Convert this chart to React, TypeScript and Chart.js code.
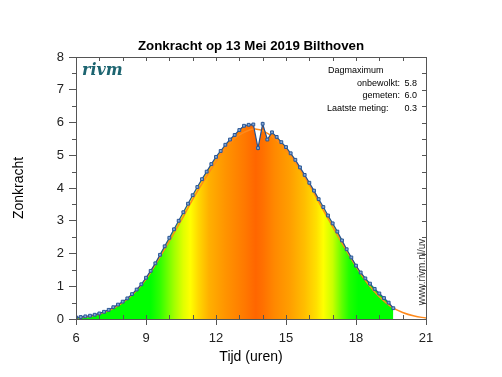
import React, { useEffect, useRef } from 'react';
import { Chart, registerables } from 'chart.js';

Chart.register(...registerables);

// ---- data ----
const START_HOUR = 6;
const STEP_HOURS = 0.2; // one measurement every 12 minutes
const measured = [
  0.05, 0.06, 0.08, 0.10, 0.13, 0.17, 0.22, 0.28, 0.36, 0.44,
  0.53, 0.63, 0.76, 0.90, 1.06, 1.26, 1.47, 1.70, 1.96, 2.22,
  2.48, 2.74, 3.00, 3.26, 3.52, 3.78, 4.03, 4.27, 4.50, 4.73,
  4.95, 5.13, 5.32, 5.48, 5.62, 5.77, 5.90, 5.93, 5.94, 5.22,
  5.96, 5.48, 5.70, 5.56, 5.40, 5.25, 5.06, 4.86, 4.63, 4.40,
  4.16, 3.92, 3.66, 3.42, 3.16, 2.92, 2.67, 2.40, 2.13, 1.88,
  1.63, 1.42, 1.24, 1.08, 0.92, 0.78, 0.64, 0.50, 0.33,
];
const measuredTimes = measured.map((_, i) => +(START_HOUR + i * STEP_HOURS).toFixed(2));

const clearTimes = [6, 6.5, 7, 7.5, 8, 8.5, 9, 9.5, 10, 10.5, 11, 11.5, 12, 12.5, 13, 13.5, 13.7, 14, 14.5, 15, 15.5, 16, 16.5, 17, 17.5, 18, 18.5, 19, 19.5, 20, 20.5, 21];
const clearValues = [0.03, 0.07, 0.15, 0.29, 0.50, 0.80, 1.22, 1.78, 2.38, 3.00, 3.65, 4.25, 4.80, 5.30, 5.62, 5.79, 5.80, 5.75, 5.52, 5.15, 4.68, 4.10, 3.45, 2.82, 2.20, 1.60, 1.08, 0.68, 0.38, 0.20, 0.09, 0.03];

const xTickValues = [6, 9, 12, 15, 18, 21];
const yTickValues = [0, 1, 2, 3, 4, 5, 6, 7, 8];

const titleText = 'Zonkracht op 13 Mei 2019 Bilthoven';
const xTitle = 'Tijd (uren)';
const yTitle = 'Zonkracht';
const infoHeader = 'Dagmaximum';
const infoLabels = ['onbewolkt:', 'gemeten:', 'Laatste meting:'];
const infoValues = ['5.8', '6.0', '0.3'];
const logoText = 'rivm';
const urlText = 'www.rivm.nl/uv';

// colour of the area fill, by hour (style)
const fillStops: [number, string][] = [
  [6, '#00ff00'], [9.2, '#00ff00'], [9.6, '#30ff00'], [10.2, '#a0ff00'], [10.6, '#e0ff00'],
  [10.9, '#ffff00'], [11.25, '#ffd800'], [11.7, '#ffb000'], [12.4, '#ff9400'], [13.25, '#ff7800'],
  [13.7, '#ff6600'], [14.0, '#ff7000'], [14.5, '#ff8800'], [15.2, '#ffa000'], [15.8, '#ffbe00'],
  [16.3, '#ffe000'], [16.6, '#ffff00'], [17.0, '#c8ff00'], [17.4, '#60ff00'], [17.7, '#20ff00'],
  [18.1, '#00ff00'], [21, '#00ff00'],
];

const FONT = "'Liberation Sans', Arial, Helvetica, sans-serif";
const AXIS_COLOR = '#555555';

export default function App() {
  const ref = useRef<HTMLCanvasElement>(null);

  useEffect(() => {
    document.body.style.margin = '0';
    const canvas = ref.current;
    if (!canvas) return;

    const fillColor = (ctx: any) => {
      const chart = ctx.chart;
      const area = chart.chartArea;
      if (!area) return 'rgba(0,0,0,0)';
      const xs = chart.scales.x;
      const g = chart.ctx.createLinearGradient(area.left, 0, area.right, 0);
      fillStops.forEach(([h, c]) => {
        const p = (xs.getPixelForValue(h) - area.left) / (area.right - area.left);
        g.addColorStop(Math.min(1, Math.max(0, p)), c);
      });
      return g;
    };

    const decor = {
      id: 'decor',
      afterDraw(chart: any) {
        const c = chart.ctx;
        const a = chart.chartArea;
        const xs = chart.scales.x;
        const ys = chart.scales.y;
        c.save();
        // frame top / right
        c.strokeStyle = AXIS_COLOR;
        c.lineWidth = 1;
        c.beginPath();
        c.moveTo(a.left, a.top + 0.5);
        c.lineTo(a.right + 0.5, a.top + 0.5);
        c.lineTo(a.right + 0.5, a.bottom);
        c.stroke();
        // minor ticks
        c.beginPath();
        for (let h = 6; h <= 21; h++) {
          const px = Math.round(xs.getPixelForValue(h)) + 0.5;
          c.moveTo(px, a.bottom);
          c.lineTo(px, a.bottom - 4);
          c.moveTo(px, a.top);
          c.lineTo(px, a.top + 4);
        }
        for (let v = 0; v <= 8; v += 0.5) {
          const py = Math.round(ys.getPixelForValue(v)) + 0.5;
          if (v % 1 !== 0) {
            c.moveTo(a.left, py);
            c.lineTo(a.left - 4, py);
          }
          c.moveTo(a.right, py);
          c.lineTo(a.right - 4, py);
        }
        c.stroke();

        c.fillStyle = '#000';
        // title
        c.font = `bold 13.3px ${FONT}`;
        c.textAlign = 'center';
        c.textBaseline = 'alphabetic';
        c.fillText(titleText, (a.left + a.right) / 2, 50);
        // axis titles
        c.font = `14px ${FONT}`;
        c.fillText(xTitle, (a.left + a.right) / 2, 361);
        c.save();
        c.translate(23, (a.top + a.bottom) / 2);
        c.rotate(-Math.PI / 2);
        c.fillText(yTitle, 0, 0);
        c.restore();
        // info block
        c.font = `9px ${FONT}`;
        c.textAlign = 'left';
        c.fillText(infoHeader, 328, 73);
        const rows = [85.5, 98, 110.7];
        infoLabels.forEach((lab, i) => {
          if (i < 2) {
            c.textAlign = 'right';
            c.fillText(lab, 400, rows[i]);
          } else {
            c.textAlign = 'left';
            c.fillText(lab, 327, rows[i]);
          }
          c.textAlign = 'right';
          c.fillText(infoValues[i], 417, rows[i]);
        });
        // logo
        c.font = `italic bold 16px 'DejaVu Serif', serif`;
        c.fillStyle = '#1c6470';
        c.textAlign = 'left';
        c.fillText(logoText, 82, 75);
        // url
        c.font = `10px ${FONT}`;
        c.fillStyle = '#333';
        c.save();
        c.translate(425, 272);
        c.rotate(-Math.PI / 2);
        c.textAlign = 'center';
        c.fillText(urlText, 0, 0);
        c.restore();
        c.restore();
      },
    };

    const measuredPoints = measuredTimes.map((t, i) => ({ x: t, y: measured[i] }));
    const clearPoints = clearTimes.map((t, i) => ({ x: t, y: clearValues[i] }));

    const chart = new Chart(canvas, {
      type: 'line',
      data: {
        datasets: [
          {
            label: 'fill',
            data: measuredPoints,
            borderWidth: 0,
            borderColor: 'rgba(0,0,0,0)',
            pointRadius: 0,
            fill: 'origin',
            backgroundColor: fillColor,
            tension: 0,
            order: 3,
          },
          {
            label: 'onbewolkt',
            data: clearPoints,
            borderColor: '#ff8a1c',
            borderWidth: 1.5,
            pointRadius: 0,
            fill: false,
            tension: 0.4,
            order: 2,
          },
          {
            label: 'gemeten',
            data: measuredPoints,
            borderColor: '#24508f',
            borderWidth: 1.2,
            pointStyle: 'rect',
            pointRadius: 2,
            pointBackgroundColor: '#86aad8',
            pointBorderColor: '#2a5694',
            pointBorderWidth: 1,
            fill: false,
            tension: 0,
            order: 1,
          },
        ],
      },
      options: {
        responsive: false,
        animation: false,
        maintainAspectRatio: false,
        layout: { padding: { top: 57, right: 76, left: 0, bottom: 0 } },
        plugins: {
          legend: { display: false },
          tooltip: { enabled: false },
          title: { display: false },
        },
        scales: {
          x: {
            type: 'linear',
            min: 6,
            max: 21,
            afterBuildTicks: (s: any) => {
              s.ticks = xTickValues.map((v) => ({ value: v }));
            },
            afterFit: (s: any) => {
              s.height = 58;
            },
            ticks: {
              font: { size: 13, family: FONT },
              color: '#222',
              padding: 6,
              maxRotation: 0,
              autoSkip: false,
            },
            grid: { drawOnChartArea: false, tickLength: 6, color: AXIS_COLOR },
            border: { color: AXIS_COLOR, width: 1 },
          },
          y: {
            type: 'linear',
            min: 0,
            max: 8,
            afterBuildTicks: (s: any) => {
              s.ticks = yTickValues.map((v) => ({ value: v }));
            },
            afterFit: (s: any) => {
              s.width = 76;
            },
            ticks: {
              font: { size: 13, family: FONT },
              color: '#222',
              padding: 5,
            },
            grid: { drawOnChartArea: false, tickLength: 7, color: AXIS_COLOR },
            border: { color: AXIS_COLOR, width: 1 },
          },
        },
      },
      plugins: [decor],
    });

    return () => chart.destroy();
  }, []);

  return (
    <div style={{ position: 'absolute', left: 0, top: 0, width: 502, height: 377 }}>
      <canvas ref={ref} width={502} height={377} style={{ display: 'block' }} />
    </div>
  );
}
